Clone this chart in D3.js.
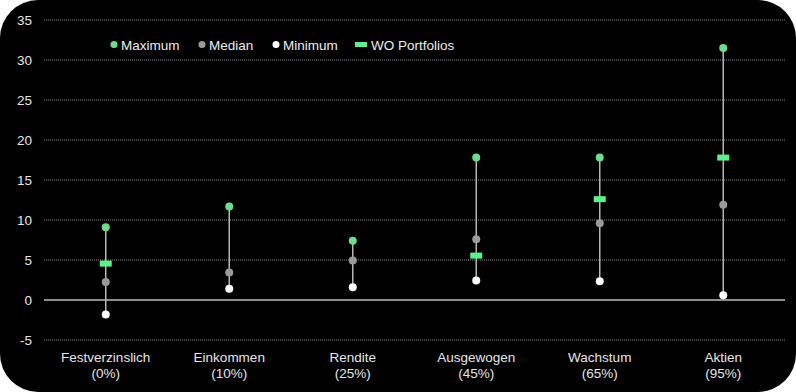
<!DOCTYPE html>
<html><head><meta charset="utf-8">
<script src="https://cdn.jsdelivr.net/npm/d3@7"></script>
<style>html,body{margin:0;padding:0;background:#fff;}svg{display:block;}</style>
</head><body>
<script>
const categories = ["Festverzinslich", "Einkommen", "Rendite", "Ausgewogen", "Wachstum", "Aktien"];
const shares = ["(0%)", "(10%)", "(25%)", "(45%)", "(65%)", "(95%)"];
const maximum = [9.1, 11.7, 7.4, 17.8, 17.8, 31.5];
const median = [2.25, 3.45, 4.95, 7.6, 9.6, 11.9];
const minimum = [-1.8, 1.4, 1.6, 2.45, 2.35, 0.6];
const woPortfolios = [4.55, null, null, 5.55, 12.6, 17.8];
const yTicks = [-5, 0, 5, 10, 15, 20, 25, 30, 35];
const legendLabels = ["Maximum", "Median", "Minimum", "WO Portfolios"];

const W = 796, H = 392;
const font = "'Liberation Sans', Arial, sans-serif";
const svg = d3.select("body").append("svg").attr("width", W).attr("height", H);
svg.append("rect").attr("x", 0).attr("y", 0).attr("width", W).attr("height", H)
  .attr("rx", 38).attr("ry", 38).attr("fill", "#000");

const x = d3.scaleBand().domain(categories).range([44, 785]);
const y = d3.scaleLinear().domain([-5, 35]).range([340, 20]);

// grid
const grid = svg.append("g");
yTicks.forEach(t => {
  grid.append("line").attr("x1", 44).attr("x2", 785).attr("y1", y(t)).attr("y2", y(t))
    .attr("stroke", t === 0 ? "#bdbdbd" : "#8a8a8a")
    .attr("stroke-width", t === 0 ? 1.5 : 1)
    .attr("stroke-dasharray", t === 0 ? null : "1,1");
});

// y axis
const yAxis = svg.append("g").attr("transform", "translate(40,0)")
  .call(d3.axisLeft(y).tickValues(yTicks).tickSize(0).tickPadding(8).tickFormat(d => String(d)));
yAxis.select(".domain").remove();
yAxis.selectAll("text").attr("fill", "#e6e6e6").style("font-family", font).style("font-size", "13.5px").attr("x", -8);

// x labels
const xl = svg.append("g");
categories.forEach((c, i) => {
  const cx = x(c) + x.bandwidth() / 2;
  xl.append("text").attr("x", cx).attr("y", 362).attr("text-anchor", "middle")
    .attr("fill", "#e6e6e6").style("font-family", font).style("font-size", "13.5px").text(c);
  xl.append("text").attr("x", cx).attr("y", 378).attr("text-anchor", "middle")
    .attr("fill", "#e6e6e6").style("font-family", font).style("font-size", "13.5px").text(shares[i]);
});

// marks
const g = svg.append("g");
categories.forEach((c, i) => {
  const cx = x(c) + x.bandwidth() / 2;
  g.append("line").attr("x1", cx).attr("x2", cx).attr("y1", y(maximum[i])).attr("y2", y(minimum[i]))
    .attr("stroke", "#b5b5b5").attr("stroke-width", 1.5);
});
categories.forEach((c, i) => {
  const cx = x(c) + x.bandwidth() / 2;
  if (woPortfolios[i] !== null) {
    g.append("rect").attr("x", cx - 6).attr("y", y(woPortfolios[i]) - 3).attr("width", 12).attr("height", 6)
      .attr("fill", "#5ef08b");
  }
  g.append("circle").attr("cx", cx).attr("cy", y(median[i])).attr("r", 4).attr("fill", "#9a9a9a");
  g.append("circle").attr("cx", cx).attr("cy", y(minimum[i])).attr("r", 4).attr("fill", "#ffffff");
  g.append("circle").attr("cx", cx).attr("cy", y(maximum[i])).attr("r", 4).attr("fill", "#6ddc92");
});

// legend
const leg = svg.append("g");
const legX = [114, 202, 276, 361];
const legColors = ["#6ddc92", "#9a9a9a", "#ffffff", "#5ef08b"];
legendLabels.forEach((l, i) => {
  if (i < 3) {
    leg.append("circle").attr("cx", legX[i]).attr("cy", 44.5).attr("r", 3.5).attr("fill", legColors[i]);
  } else {
    leg.append("rect").attr("x", legX[i] - 6).attr("y", 42).attr("width", 12).attr("height", 5).attr("fill", legColors[i]);
  }
  leg.append("text").attr("x", legX[i] + (i < 3 ? 7 : 10)).attr("y", 49.5)
    .attr("fill", "#ececec").style("font-family", font).style("font-size", "13.5px").text(l);
});
</script>
</body></html>
